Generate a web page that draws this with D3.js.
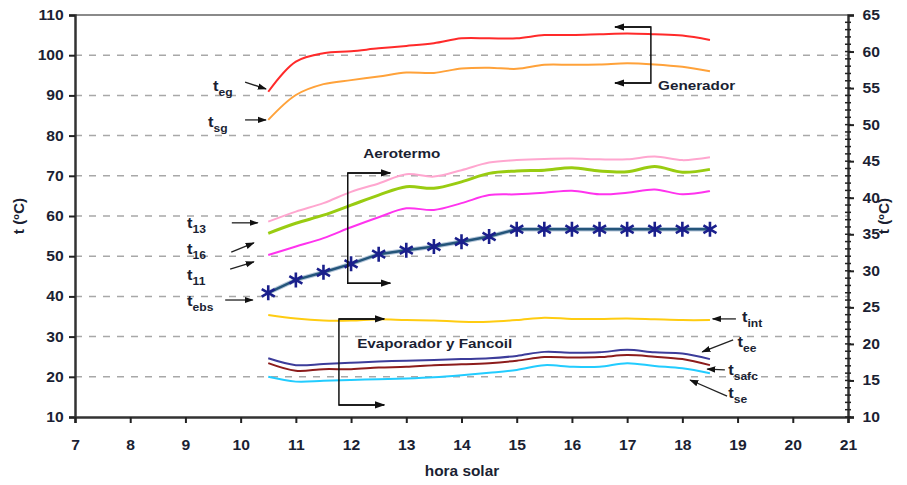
<!DOCTYPE html>
<html><head><meta charset="utf-8">
<script src="https://cdn.jsdelivr.net/npm/d3@7"></script>
<style>
body{margin:0;background:#fff;}
svg text{font-family:Arial,"Liberation Sans",sans-serif;font-weight:bold;fill:#1b1f33;}
</style></head>
<body><svg id="c" width="907" height="485"></svg>
<script>
const hours = [10.5,11,11.5,12,12.5,13,13.5,14,14.5,15,15.5,16,16.5,17,17.5,18,18.5];
const tEg   = [90.9,98.4,100.5,101,101.7,102.3,103,104.2,104.2,104.2,105,105,105.2,105.4,105.2,104.9,103.8];
const tSg   = [83.9,90.1,92.8,93.8,94.7,95.7,95.6,96.7,96.9,96.6,97.6,97.6,97.7,98,97.7,97.1,96];
const t13   = [58.6,61.1,63.2,66,68.1,70.4,69.8,71.4,73.3,73.9,74.2,74.3,74.1,74.1,74.8,73.9,74.6];
const t16   = [55.7,58.2,60.2,62.7,65.2,67.3,66.9,68.5,70.6,71.2,71.4,72,71.2,71,72.3,70.9,71.6];
const t11   = [50.3,52.4,54.5,57.2,59.7,61.9,61.5,63.2,65.2,65.4,65.8,66.3,65.4,65.8,66.6,65.4,66.2];
const tEbs  = [40.9,44.1,46,48.1,50.5,51.5,52.4,53.6,54.9,56.7,56.7,56.7,56.7,56.7,56.7,56.7,56.7];
const tInt  = [35.4,34.5,34,34,34.3,34.1,34,33.7,33.7,34.1,34.7,34.4,34.4,34.5,34.3,34.1,34.1];
const tEe   = [24.6,22.9,23.2,23.5,23.8,24,24.2,24.4,24.6,25.2,26.2,26,26.1,26.7,26.1,25.8,24.4];
const tSafc = [23.4,21.5,21.9,21.9,22.3,22.5,22.9,23.1,23.4,24,24.9,24.8,24.9,25.4,25,24.4,22.9];
const tSe   = [20,18.8,19,19.2,19.4,19.6,19.9,20.4,21,21.7,22.9,22.5,22.5,23.4,22.7,22.1,20.9];
const xTicks = [7,8,9,10,11,12,13,14,15,16,17,18,19,20,21];
const yLeftTicks = [10,20,30,40,50,60,70,80,90,100,110];
const yRightTicks = [10,15,20,25,30,35,40,45,50,55,60,65];
const gridValues = [20,30,40,50,60,70,80,90,100];

const series = [
  {name:"tEg", values:tEg, color:"#ff2a2a", w:2},
  {name:"tSg", values:tSg, color:"#ffa23a", w:2},
  {name:"t13", values:t13, color:"#ffa6cf", w:2},
  {name:"t16", values:t16, color:"#99cc11", w:3},
  {name:"t11", values:t11, color:"#ff33ee", w:2},
  {name:"tInt", values:tInt, color:"#ffcc11", w:2},
  {name:"tEe", values:tEe, color:"#3c3c9a", w:2},
  {name:"tSafc", values:tSafc, color:"#8c1c1c", w:2},
  {name:"tSe", values:tSe, color:"#22ccff", w:2}
];

// annotations in data coordinates
const labels = [
  {t:"t",s:"eg",h:9.50,v:91.1, a:[10.08,93.3,10.46,91.6]},
  {t:"t",s:"sg",h:9.41,v:82.1, a:[10.08,83.9,10.46,83.9]},
  {t:"t",s:"13",h:9.03,v:57.0, a:[9.84,58.3,10.31,58.3]},
  {t:"t",s:"16",h:9.03,v:50.5, a:[9.83,51.0,10.24,53.3]},
  {t:"t",s:"11",h:9.03,v:44.1, a:[9.81,46.8,10.24,48.6]},
  {t:"t",s:"ebs",h:9.03,v:37.6, a:[9.72,39.1,10.22,39.1]},
  {t:"t",s:"int",h:19.08,v:33.6, a:[18.97,34.4,18.55,34.4]},
  {t:"t",s:"ee",h:19.0,v:27.4, a:[18.92,29.2,18.36,26.2]},
  {t:"t",s:"safc",h:18.83,v:20.4, a:[18.77,21.7,18.45,21.9]},
  {t:"t",s:"se",h:18.83,v:14.7, a:[18.81,15.2,18.14,19.2]}
];
const brackets = [
  {text:"Generador", x:17.43, x2:16.78, v1:107.0, v2:93.1, th:17.56, tv:91.3},
  {text:"Aerotermo", x:11.94, x2:12.71, v1:70.7, v2:43.3, th:12.22, tv:74.4},
  {text:"Evaporador y Fancoil", x:11.78, x2:12.6, v1:34.4, v2:13.0, th:12.11, tv:27.2}
];

const svg = d3.select("#c");
const L=75, R=848, T=15, B=417;
const x = d3.scaleLinear().domain([7,21]).range([L,R]);
const y = d3.scaleLinear().domain([10,110]).range([B,T]);
const y2 = d3.scaleLinear().domain([10,65]).range([B,T]);

const defs = svg.append("defs");
defs.append("marker").attr("id","ah").attr("viewBox","0 0 10 10").attr("refX",9).attr("refY",5)
  .attr("markerWidth",7).attr("markerHeight",7).attr("orient","auto-start-reverse")
  .append("path").attr("d","M0,1.5 L10,5 L0,8.5 Z").attr("fill","#111");

// grid
svg.append("g").selectAll("line").data(gridValues).join("line")
  .attr("x1",L).attr("x2",R).attr("y1",d=>y(d)).attr("y2",d=>y(d))
  .attr("stroke","#a8a8a8").attr("stroke-width",1.5).attr("stroke-dasharray","7,7");
// top border
svg.append("line").attr("x1",L).attr("x2",R).attr("y1",T).attr("y2",T).attr("stroke","#8a8a8a").attr("stroke-width",2);

// axes
const gL = svg.append("g").attr("transform",`translate(${L},0)`)
  .call(d3.axisLeft(y).tickValues(yLeftTicks).tickSize(6).tickPadding(4));
const gB = svg.append("g").attr("transform",`translate(0,${B})`)
  .call(d3.axisBottom(x).tickValues(xTicks).tickSize(6).tickPadding(17));
const gR = svg.append("g").attr("transform",`translate(${R},0)`)
  .call(d3.axisRight(y2).tickValues(yRightTicks).tickSize(6).tickPadding(7));
svg.append("g").attr("transform",`translate(${R},0)`).selectAll("line").data(d3.range(10,65,1)).join("line")
  .attr("x1",-3).attr("x2",3).attr("y1",d=>y2(d)).attr("y2",d=>y2(d)).attr("stroke","#222").attr("stroke-width",1.5);
[gL,gB,gR].forEach(g=>{
  g.selectAll(".domain").attr("stroke","#333").attr("stroke-width",2.5);
  g.selectAll(".tick line").attr("stroke","#222").attr("stroke-width",2);
  g.selectAll(".tick text").attr("font-size",14).attr("font-family","Arial,'Liberation Sans',sans-serif")
    .attr("font-weight","bold").attr("fill","#1b1f33").attr("transform","scale(1.12,1)");
});

// titles
svg.append("text").attr("transform","translate(462,476) scale(1.1,1)").attr("text-anchor","middle").attr("font-size",14).text("hora solar");
svg.append("text").attr("transform","translate(24,216) rotate(-90) scale(1.1,1)").attr("text-anchor","middle").attr("font-size",14).text("t (ºC)");
svg.append("text").attr("transform","translate(889,216) rotate(-90) scale(1.1,1)").attr("text-anchor","middle").attr("font-size",14).text("t (ºC)");

// lines
const line = d3.line().x((d,i)=>x(hours[i])).y(d=>y(d)).curve(d3.curveCatmullRom.alpha(0.5));
series.forEach(s=>{
  svg.append("path").datum(s.values).attr("d",line).attr("fill","none")
    .attr("stroke",s.color).attr("stroke-width",s.w).attr("stroke-linejoin","round");
});
const lineLin = d3.line().x((d,i)=>x(hours[i])).y(d=>y(d));
svg.append("path").datum(tEbs).attr("d",lineLin).attr("fill","none").attr("stroke","#b5c6da").attr("stroke-width",4.5);
svg.append("path").datum(tEbs).attr("d",lineLin).attr("fill","none").attr("stroke","#24557a").attr("stroke-width",2.5);
const star = d3.symbol().type(d3.symbolAsterisk).size(160);
svg.append("g").selectAll("path").data(tEbs).join("path")
  .attr("transform",(d,i)=>`translate(${x(hours[i])},${y(d)})`).attr("d",star)
  .attr("fill","none").attr("stroke","#1a1f8c").attr("stroke-width",2.6);

// labels
labels.forEach(l=>{
  const t = svg.append("text").attr("transform",`translate(${x(l.h)},${y(l.v)}) scale(1.1,1)`).attr("font-size",15);
  t.append("tspan").text(l.t);
  t.append("tspan").attr("dy",5).attr("font-size",11).text(l.s);
  svg.append("line").attr("x1",x(l.a[0])).attr("y1",y(l.a[1])).attr("x2",x(l.a[2])).attr("y2",y(l.a[3]))
    .attr("stroke","#222").attr("stroke-width",1.3).attr("marker-end","url(#ah)");
});
brackets.forEach(b=>{
  svg.append("path").attr("d",`M${x(b.x2)},${y(b.v1)} L${x(b.x)},${y(b.v1)} L${x(b.x)},${y(b.v2)} L${x(b.x2)},${y(b.v2)}`)
    .attr("fill","none").attr("stroke","#111").attr("stroke-width",1.5);
  [b.v1,b.v2].forEach(v=>{
    svg.append("line").attr("x1",x(b.x)).attr("x2",x(b.x2)).attr("y1",y(v)).attr("y2",y(v))
      .attr("stroke","#111").attr("stroke-width",1.5).attr("marker-end","url(#ah)");
  });
  svg.append("text").attr("transform",`translate(${x(b.th)},${y(b.tv)}) scale(1.22,1)`).attr("font-size",12.5).text(b.text);
});
</script></body></html>
